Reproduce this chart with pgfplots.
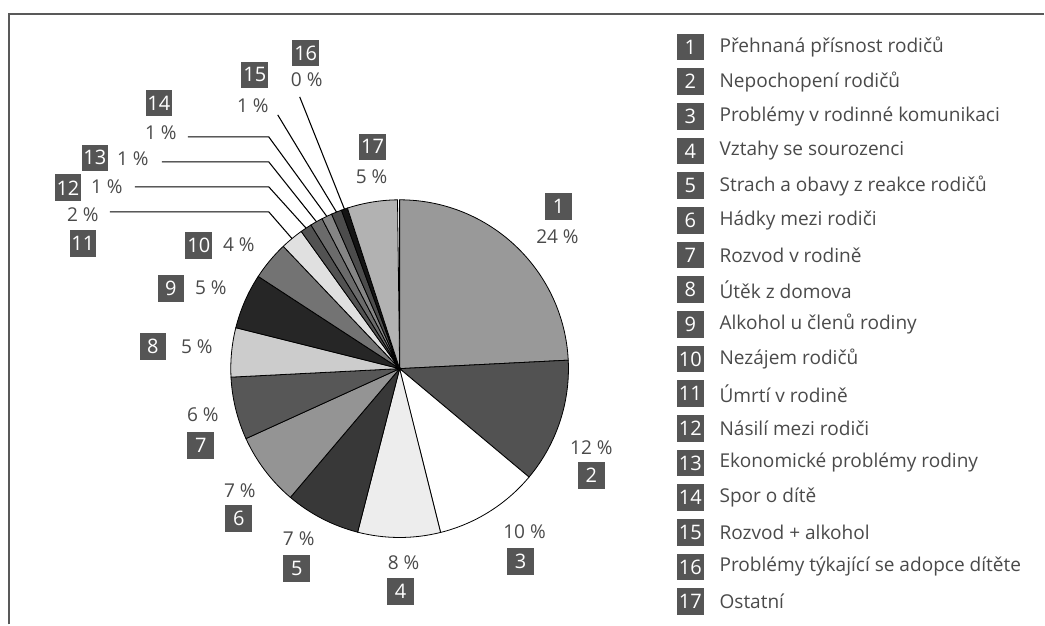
\documentclass[border=0pt]{standalone}
\usepackage{pgfplots}
\pgfplotsset{compat=1.18}
\usepackage{pgfplotstable}
\usepackage{fontspec}
\setmainfont{Open Sans}
\definecolor{txt}{HTML}{4A4A4A}
\definecolor{numbox}{HTML}{555555}

% val = share in %, pct = printed label, b = number box, p = percent text,
% l/k = start and knee of a leader line (0 = none); positions in pixels
\pgfplotstableread[col sep=comma]{
val,pct,bx,by,px,py,lx,ly,kx,ky,col,name
24.2,24,559,207,558,237,0,0,0,0,black!40,Přehnaná přísnost rodičů
11.9,12,592,476,592,448,0,0,0,0,black!68,Nepochopení rodičů
10.0,10,521,562,525,532,0,0,0,0,white,Problémy v rodinné komunikaci
7.9,8,401,592,404,563,0,0,0,0,black!7,Vztahy se sourozenci
7.2,7,297,569,299,539,0,0,0,0,black!78,Strach a obavy z reakce rodičů
7.0,7,239,519,240,491,0,0,0,0,black!42,Hádky mezi rodiči
6.0,6,201,446,203,415,0,0,0,0,black!66,Rozvod v rodině
4.7,5,153,347,197,347,0,0,0,0,black!20,Útěk z domova
5.3,5,171,289,211,288,0,0,0,0,black!85,Alkohol u členů rodiny
3.7,4,199,246,239,245,0,0,0,0,black!55,Nezájem rodičů
2.2,2,83,244,83,215,110,212,269,212,black!12,Úmrtí v rodině
1.1,1,68,188,107,187,135,187,269,187,black!68,Násilí mezi rodiči
1.2,1,95,158,133,159,162,162,269,162,black!58,Ekonomické problémy rodiny
1.0,1,159,103,161,133,188,137,269,137,black!48,Spor o dítě
1.0,1,255,75,253,106,278,115,278,115,black!70,Rozvod + alkohol
0.6,0,306,53,307,80,300,97,300,97,black!92,Problémy týkající se adopce dítěte
4.8,5,373,147,372,177,0,0,0,0,black!30,Ostatní
}\piedata
\pgfplotstablegetrowsof{\piedata}
\pgfmathtruncatemacro\N{\pgfplotsretval-1}

\begin{document}
\begin{tikzpicture}[
  font=\fontsize{14.3}{16}\selectfont,
  nbox/.style={fill=numbox, text=white, minimum size=20pt, inner sep=0pt,
    font=\fontsize{15}{16}\selectfont},
  lbl/.style={text=txt, inner sep=0pt}]
\begin{axis}[
  scale only axis,
  width=783.75pt, height=468.75pt,
  xmin=0, xmax=1045, ymin=-625, ymax=0,
  hide axis, clip=false]

\draw[draw=none] (axis cs:0,0) rectangle (axis cs:1045,-625);
\draw[line width=1.5pt, black!65] (axis cs:9,-625) -- (axis cs:9,-14) -- (axis cs:1045,-14);

\def\cum{90}
\pgfplotsforeachungrouped \i in {0,...,\N}{%
  \pgfplotstablegetelem{\i}{val}\of\piedata \let\v\pgfplotsretval
  \pgfplotstablegetelem{\i}{pct}\of\piedata \let\p\pgfplotsretval
  \pgfplotstablegetelem{\i}{col}\of\piedata \let\c\pgfplotsretval
  \pgfplotstablegetelem{\i}{name}\of\piedata \let\nm\pgfplotsretval
  \pgfplotstablegetelem{\i}{bx}\of\piedata \let\bx\pgfplotsretval
  \pgfplotstablegetelem{\i}{by}\of\piedata \let\by\pgfplotsretval
  \pgfplotstablegetelem{\i}{px}\of\piedata \let\px\pgfplotsretval
  \pgfplotstablegetelem{\i}{py}\of\piedata \let\py\pgfplotsretval
  \pgfplotstablegetelem{\i}{lx}\of\piedata \let\lx\pgfplotsretval
  \pgfplotstablegetelem{\i}{ly}\of\piedata \let\ly\pgfplotsretval
  \pgfplotstablegetelem{\i}{kx}\of\piedata \let\kx\pgfplotsretval
  \pgfplotstablegetelem{\i}{ky}\of\piedata \let\ky\pgfplotsretval
  \pgfmathsetmacro\a{\cum}
  \pgfmathsetmacro\b{\cum-3.6*\v}
  \pgfmathsetmacro\m{(\a+\b)/2}
  \pgfmathtruncatemacro\k{\i+1}
  \pgfmathsetmacro\legy{-47-34.7*\i}
  % wedge
  \edef\temp{\noexpand\filldraw[fill=\c, draw=black, line width=0.6pt]
    (axis cs:400,-369) -- ++(\a:126.75pt)
    arc[start angle=\a, end angle=\b, radius=126.75pt] -- cycle;}
  \temp
  % labels
  \edef\temp{\noexpand\node[nbox] at (axis cs:\bx,-\by) {\k};
    \noexpand\node[lbl] at (axis cs:\px,-\py) {\p\noexpand\ \noexpand\%};
    \noexpand\node[nbox] at (axis cs:691,\legy) {\k};
    \noexpand\node[lbl, anchor=west] at (axis cs:720,\legy) {\nm};}
  \temp
  \pgfmathtruncatemacro\hasl{\lx>0}
  \ifnum\hasl=1
    \edef\temp{\noexpand\draw[black, line width=0.8pt]
      (axis cs:\lx,-\ly) -- (axis cs:\kx,-\ky)
      -- ([shift={(\m:126.75pt)}]axis cs:400,-369);}
    \temp
  \fi
  \global\let\cum\b
}
\end{axis}
\end{tikzpicture}
\end{document}
